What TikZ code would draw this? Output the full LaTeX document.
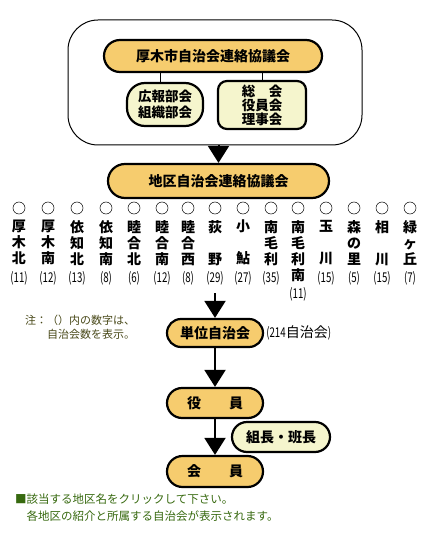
\documentclass[tikz,border=0pt]{standalone}
\usepackage{fontspec}
\setmainfont{Noto Sans CJK JP}
\newfontfamily\numfont[FakeStretch=0.72]{Noto Sans CJK JP}
\usetikzlibrary{arrows.meta,shapes.misc}
\definecolor{orng}{RGB}{246,204,110}
\definecolor{pale}{RGB}{245,245,205}
\definecolor{notecol}{RGB}{72,72,24}
\definecolor{hintcol}{RGB}{55,105,15}

\begin{document}
\begin{tikzpicture}[x=1pt,y=-1pt,
	pill/.style={rounded rectangle,draw,line width=2.2pt,fill=orng,inner sep=0pt,font=\bfseries\fontsize{14}{16}\selectfont},
	palepill/.style={pill,fill=pale},
	dot/.style={circle,draw,line width=0.5pt,minimum size=12pt,inner sep=0pt},
	area/.style={anchor=north,align=center,inner sep=0pt,font=\bfseries\fontsize{14}{16}\selectfont},
	count/.style={inner sep=0pt,font=\numfont\fontsize{13.5}{14}\selectfont},
	arr/.style={line width=2pt,-{Triangle[width=21pt,length=17pt]}}]
			\useasboundingbox (0,0) rectangle (447,537);
			\node[draw,rounded corners=30pt,line width=1pt,minimum width=294pt,minimum height=125pt] (frame) at (215,82.5) {};
			\node[pill,minimum width=218pt,minimum height=32pt] (city) at (213,56) {厚木市自治会連絡協議会};
			\node[draw,line width=2.2pt,fill=pale,rounded corners=18pt,minimum width=76pt,minimum height=43pt,align=center,inner sep=0pt,font=\bfseries\fontsize{13.5}{16}\selectfont] (pr) at (165,104.5) {広報部会\\組織部会};
			\node[draw,line width=2.2pt,fill=pale,rounded corners=9pt,minimum width=88pt,minimum height=48pt,align=center,inner sep=0pt,font=\bfseries\fontsize{13.5}{14}\selectfont] (board) at (262,105) {総　会\\役員会\\理事会};
			\draw[line width=1pt] ([xshift=-5pt]pr.north) -- ([xshift=-5pt]pr.north |- city.south);
			\draw[line width=1pt] (board.north) -- (board.north |- city.south);
			\node[pill,minimum width=221pt,minimum height=34pt] (district) at (218.5,181) {地区自治会連絡協議会};
			\draw[arr] (frame.south -| district.north) -- (district.north);
			\node[dot] (c1) at (19,208) {};
			\node[dot] (c2) at (48,208) {};
			\node[dot] (c3) at (77,208) {};
			\node[dot] (c4) at (106,208) {};
			\node[dot] (c5) at (134,208) {};
			\node[dot] (c6) at (162,208) {};
			\node[dot] (c7) at (188,208) {};
			\node[dot] (c8) at (215,208) {};
			\node[dot] (c9) at (243,208) {};
			\node[dot] (c10) at (271,208) {};
			\node[dot] (c11) at (298,208) {};
			\node[dot] (c12) at (326,208) {};
			\node[dot] (c13) at (354,208) {};
			\node[dot] (c14) at (382,208) {};
			\node[dot] (c15) at (410,208) {};
			\node[area] (a1) at (19,220) {厚\\木\\北};
			\node[area] (a2) at (48,220) {厚\\木\\南};
			\node[area] (a3) at (77,220) {依\\知\\北};
			\node[area] (a4) at (106,220) {依\\知\\南};
			\node[area] (a5) at (134,220) {睦\\合\\北};
			\node[area] (a6) at (162,220) {睦\\合\\南};
			\node[area] (a7) at (188,220) {睦\\合\\西};
			\node[area] (a8) at (215,220) {荻\\ \phantom{荻}\\ 野};
			\node[area] (a9) at (243,220) {小\\ \phantom{小}\\ 鮎};
			\node[area] (a10) at (271,220) {南\\毛\\利};
			\node[area] (a11) at (298,220) {南\\毛\\利\\南};
			\node[area] (a12) at (326,220) {玉\\ \phantom{玉}\\ 川};
			\node[area] (a13) at (354,220) {森\\の\\里};
			\node[area] (a14) at (382,220) {相\\ \phantom{相}\\ 川};
			\node[area] (a15) at (410,220) {緑\\ヶ\\丘};
			\node[count] (n1) at (19,278) {(11)};
			\node[count] (n2) at (48,278) {(12)};
			\node[count] (n3) at (77,278) {(13)};
			\node[count] (n4) at (106,278) {(8)};
			\node[count] (n5) at (134,278) {(6)};
			\node[count] (n6) at (162,278) {(12)};
			\node[count] (n7) at (188,278) {(8)};
			\node[count] (n8) at (215,278) {(29)};
			\node[count] (n9) at (243,278) {(27)};
			\node[count] (n10) at (271,278) {(35)};
			\node[count] (n11) at (298,294) {(11)};
			\node[count] (n12) at (326,278) {(15)};
			\node[count] (n13) at (354,278) {(5)};
			\node[count] (n14) at (382,278) {(15)};
			\node[count] (n15) at (410,278) {(7)};
			\node[pill,minimum width=96pt,minimum height=28pt] (unit) at (215,333) {単位自治会};
			\coordinate (rowfoot) at (215,293);
			\draw[arr] (rowfoot) -- (unit.north);
			\node[count,anchor=west,xshift=2pt] (total) at (unit.east) {(214{\rmfamily\fontsize{14}{14}\selectfont 自治会})};
			\node[anchor=north west,align=left,inner sep=0pt,text=notecol,font=\fontsize{11}{14}\selectfont] (note) at (25,315) {注：（）内の数字は、\\\hspace*{22pt}自治会数を表示。};
			\node[pill,minimum width=96pt,minimum height=30pt] (officer) at (215,403) {役　　員};
			\node[palepill,minimum width=98pt,minimum height=30pt] (leader) at (281,437) {組長・班長};
			\node[pill,minimum width=96pt,minimum height=31pt] (member) at (215,471.5) {会　　員};
			\draw[arr] (unit.south) -- (officer.north);
			\draw[arr] (officer.south) -- (member.north);
			\node[anchor=north west,align=left,inner sep=0pt,text=hintcol,font=\fontsize{11.5}{17}\selectfont] (hint) at (15,494) {■該当する地区名をクリックして下さい。\\\phantom{■}各地区の紹介と所属する自治会が表示されます。};
		\end{tikzpicture}
\end{document}
